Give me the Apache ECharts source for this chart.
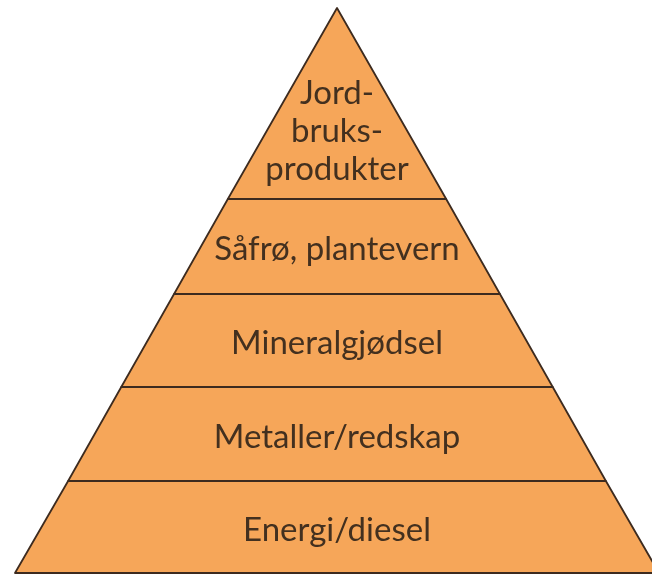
<!DOCTYPE html>
<html>
<head>
<meta charset="utf-8">
<script src="https://cdn.jsdelivr.net/npm/echarts@6/dist/echarts.min.js"></script>
<style>
html, body { margin: 0; padding: 0; background: #fff; }
#main { width: 652px; height: 575px; }
</style>
</head>
<body>
<div id="main"></div>
<script>
// lagene fra bunn til topp, verdi = relativ bredde ved lagets underkant
var layers = ['Energi/diesel', 'Metaller/redskap', 'Mineralgjødsel', 'Såfrø, plantevern', 'Jord-\nbruks-\nprodukter'];
var widths = [100, 83.5, 67, 50.6, 33.9];
var heights = [92, 94, 93, 95, 191];

var myChart = echarts.init(document.getElementById('main'));

var data = layers.map(function (name, i) {
    var item = {
        name: name,
        value: widths[i],
        itemStyle: { height: heights[i] }
    };
    if (i === layers.length - 1) {
        item.label = { lineHeight: 38 };
    }
    return item;
});

myChart.setOption({
    animation: false,
    backgroundColor: '#ffffff',
    series: [
        {
            type: 'funnel',
            sort: 'ascending',
            left: 15,
            top: 8,
            width: 644,
            height: 565,
            min: 0,
            max: 100,
            minSize: '0%',
            maxSize: '100%',
            gap: 0,
            itemStyle: {
                color: '#f6a659',
                borderColor: '#3d2b1f',
                borderWidth: 1.8
            },
            label: {
                show: true,
                position: 'inside',
                color: '#43301f',
                fontFamily: 'Lato',
                fontSize: 33
            },
            // toppen er en trekant, teksten sitter lavere enn midten
            labelLayout: function (params) {
                if (params.dataIndex === layers.length - 1) {
                    return { dy: 28 };
                }
                return { dy: 3 };
            },
            labelLine: { show: false },
            emphasis: { disabled: true },
            data: data
        }
    ]
});
</script>
</body>
</html>
